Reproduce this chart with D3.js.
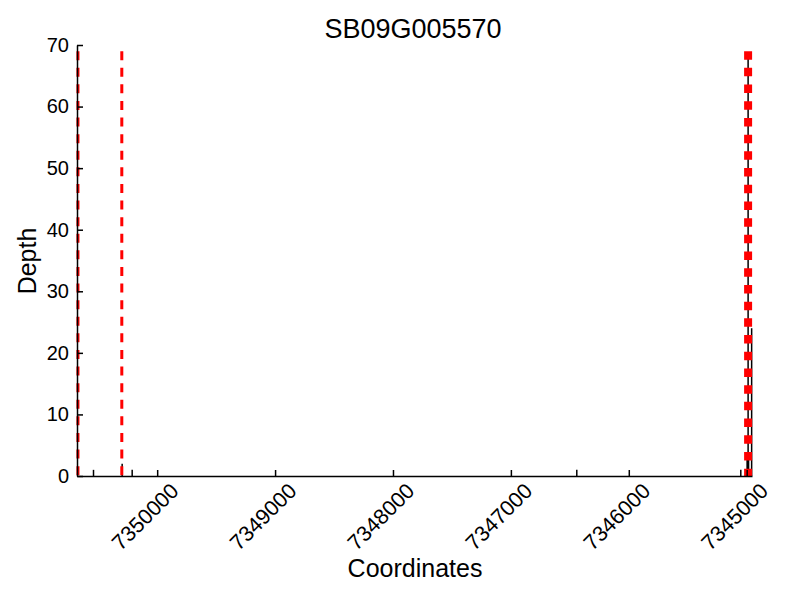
<!DOCTYPE html>
<html lang="en">
    <head>
        <meta charset="utf-8">
        <title>SB09G005570</title>
        <style>
            body, html {
                margin: 0;
                padding: 0;
                background: white;
            }
            text {
                font-family: "Liberation Sans", Arial, sans-serif;
            }
            .axis path, .axis line {
                fill: none;
                stroke: black;
                stroke-width: 1.5px;
            }
            .axis text {
                font-size: 20px;
            }
            .x.axis text {
                font-size: 21.5px;
            }
        </style>
        <script src="https://d3js.org/d3.v7.min.js"></script>
    </head>
    <body>
        <svg id="chart" width="800" height="600"></svg>
        <script>
            // read depth coverage (position, depth)
            var positions = [7350540, 7350297, 7350212, 7346441, 7345050, 7344996, 7344992, 7344988, 7344984, 7344958];
            var depths    = [1, 2, 1, 1, 1, 3, 3, 68, 3, 24];
            // gene boundaries
            var dashedMarks = [7350672, 7350300];
            var dottedMarks = [7344988];
            var markTop = 69;
            var xTicks = [7350000, 7349000, 7348000, 7347000, 7346000, 7345000];
            var yTicks = [0, 10, 20, 30, 40, 50, 60, 70];

            var margin = {left: 77, right: 48, top: 45, bottom: 124};
            var width = 800 - margin.left - margin.right,
                height = 600 - margin.top - margin.bottom;

            var svg = d3.select("#chart");
            var g = svg.append("g")
                .attr("transform", "translate(" + margin.left + "," + margin.top + ")");

            // coordinates run backwards (minus strand)
            var x = d3.scaleLinear().domain([7350680, 7344955]).range([0, width]);
            var y = d3.scaleLinear().domain([0, 70]).range([height, 0]);

            var cov = positions.map(function(p, i) { return {pos: p, depth: depths[i]}; });

            g.selectAll("line.cov")
                .data(cov)
                .enter().append("line")
                .attr("class", "cov")
                .attr("x1", function(d) { return x(d.pos); })
                .attr("x2", function(d) { return x(d.pos); })
                .attr("y1", y(0))
                .attr("y2", function(d) { return y(d.depth); })
                .attr("stroke", "black")
                .attr("stroke-width", 1.5);

            g.selectAll("line.dashed")
                .data(dashedMarks)
                .enter().append("line")
                .attr("class", "dashed")
                .attr("x1", function(d) { return x(d); })
                .attr("x2", function(d) { return x(d); })
                .attr("y1", y(markTop))
                .attr("y2", y(0))
                .attr("stroke", "red")
                .attr("stroke-width", 3)
                .attr("stroke-dasharray", "9,7.6");

            g.selectAll("line.dotted")
                .data(dottedMarks)
                .enter().append("line")
                .attr("class", "dotted")
                .attr("x1", function(d) { return x(d); })
                .attr("x2", function(d) { return x(d); })
                .attr("y1", y(markTop))
                .attr("y2", y(0))
                .attr("stroke", "red")
                .attr("stroke-width", 8)
                .attr("stroke-dasharray", "8.5,8.2");

            var xAxis = g.append("g")
                .attr("class", "x axis")
                .attr("transform", "translate(0," + height + ")")
                .call(d3.axisBottom(x).tickValues(xTicks).tickFormat(d3.format("d"))
                    .tickSizeInner(-6).tickSizeOuter(0).tickPadding(9));
            xAxis.selectAll("text")
                .style("text-anchor", "end")
                .attr("dx", "0.2em")
                .attr("dy", "0.85em")
                .attr("transform", "rotate(-45)");

            g.append("g")
                .attr("class", "y axis")
                .call(d3.axisLeft(y).tickValues(yTicks)
                    .tickSizeInner(-6).tickSizeOuter(0).tickPadding(8));

            svg.append("text")
                .attr("x", 413)
                .attr("y", 38)
                .attr("text-anchor", "middle")
                .style("font-size", "27px")
                .text("SB09G005570");

            svg.append("text")
                .attr("x", 415)
                .attr("y", 577)
                .attr("text-anchor", "middle")
                .style("font-size", "25px")
                .text("Coordinates");

            svg.append("text")
                .attr("transform", "translate(36,261) rotate(-90)")
                .attr("text-anchor", "middle")
                .style("font-size", "25px")
                .text("Depth");
        </script>
    </body>
</html>
